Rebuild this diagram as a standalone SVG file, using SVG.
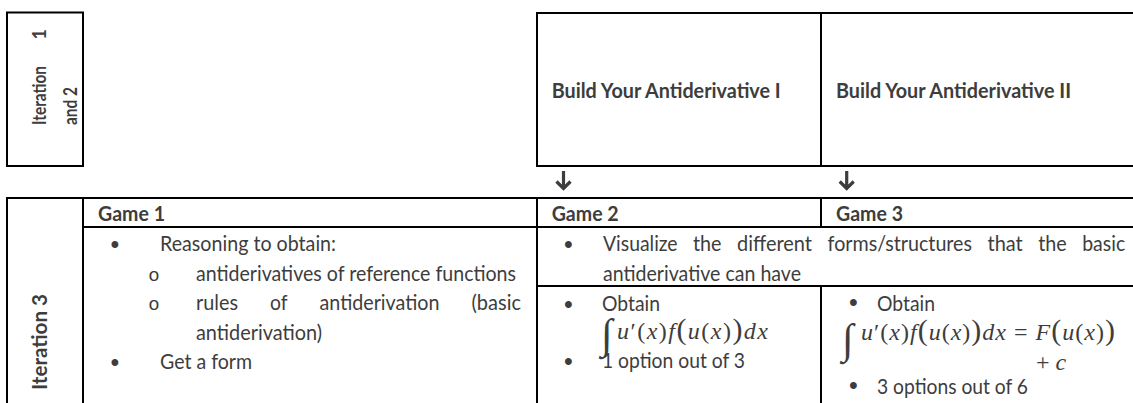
<svg xmlns="http://www.w3.org/2000/svg" width="1133" height="403" viewBox="0 0 1133 403">
  <style>
    .grid { stroke: #000; stroke-width: 2; fill: none; }
    .t { font-family: Lato, 'Open Sans', sans-serif; font-size: 21px; fill: #3d3d3d; }
    .b { font-weight: 700; }
    .small { font-size: 18px; }
    .dot { font-family: 'Liberation Sans', sans-serif; font-size: 25px; fill: #3d3d3d; text-anchor: middle; }
    .ring { font-family: 'Liberation Mono', monospace; font-size: 19px; fill: #3d3d3d; text-anchor: middle; }
    .m { font-family: 'Liberation Serif', 'DejaVu Serif', serif; font-size: 24px; fill: #3d3d3d; }
    .i { font-style: italic; }
    .big { font-size: 30px; }
    .int { font-size: 42px; }
    .arrow { stroke: #3d3d3d; stroke-width: 3.2; fill: none; }
  </style>

  <!-- Iterations 1 and 2 label box -->
  <g id="iter12">
    <rect class="grid" x="7" y="12.5" width="76" height="153.5"/>
    <g transform="translate(46,125) rotate(-90)">
      <text class="t b small" x="0" y="0" textLength="59" lengthAdjust="spacingAndGlyphs">Iteration</text>
      <text class="t b small" x="96" y="0" text-anchor="end">1</text>
    </g>
    <text class="t b small" transform="translate(77,125) rotate(-90)" x="0" y="0" textLength="38" lengthAdjust="spacingAndGlyphs">and 2</text>
  </g>

  <!-- Build Your Antiderivative I -->
  <g id="bya1">
    <path class="grid" d="M537 13 H821 M537 166 H821 M537 12 V167"/>
    <text class="t b" x="551.7" y="98" textLength="229" lengthAdjust="spacingAndGlyphs">Build Your Antiderivative I</text>
  </g>

  <!-- Build Your Antiderivative II -->
  <g id="bya2">
    <path class="grid" d="M821 13 H1133 M821 166 H1133 M821 12 V167"/>
    <text class="t b" x="836" y="98" textLength="235" lengthAdjust="spacingAndGlyphs">Build Your Antiderivative II</text>
  </g>

  <!-- Iteration 3 table rules -->
  <g id="table-grid">
    <path class="grid" d="M6 198 H1133 M83 227 H1133 M537 286 H1133 M7 197 V403 M83 198 V403 M537 198 V403 M821 198 V227 M821 286 V403"/>
  </g>

  <g id="iter3">
    <text class="t b" transform="translate(46.5,390) rotate(-90)" x="0" y="0" textLength="96" lengthAdjust="spacingAndGlyphs">Iteration 3</text>
  </g>

  <!-- Game 1 column -->
  <g id="game1">
    <text class="t b" x="98" y="221" textLength="67" lengthAdjust="spacingAndGlyphs">Game 1</text>
    <text class="dot" x="115" y="253">•</text>
    <text class="t" x="160" y="251" textLength="176" lengthAdjust="spacingAndGlyphs">Reasoning to obtain:</text>
    <text class="ring" x="154" y="280.5">o</text>
    <text class="t" x="196" y="280.5" textLength="320" lengthAdjust="spacingAndGlyphs">antiderivatives of reference functions</text>
    <text class="ring" x="154" y="310">o</text>
    <text class="t" x="196" y="310" textLength="42" lengthAdjust="spacingAndGlyphs">rules</text>
    <text class="t" x="270" y="310" textLength="17.5" lengthAdjust="spacingAndGlyphs">of</text>
    <text class="t" x="319.5" y="310" textLength="120" lengthAdjust="spacingAndGlyphs">antiderivation</text>
    <text class="t" x="471.5" y="310" textLength="49.5" lengthAdjust="spacingAndGlyphs">(basic</text>
    <text class="t" x="196" y="339.5" textLength="126" lengthAdjust="spacingAndGlyphs">antiderivation)</text>
    <text class="dot" x="115" y="371">•</text>
    <text class="t" x="160" y="369" textLength="92" lengthAdjust="spacingAndGlyphs">Get a form</text>
  </g>

  <!-- Game 2 and Game 3 headers, shared row -->
  <g id="game2-head">
    <text class="t b" x="551.7" y="221" textLength="67" lengthAdjust="spacingAndGlyphs">Game 2</text>
  </g>
  <g id="game3-head">
    <text class="t b" x="836" y="221" textLength="67" lengthAdjust="spacingAndGlyphs">Game 3</text>
  </g>
  <g id="shared">
    <text class="dot" x="568.3" y="253">•</text>
    <text class="t" x="603" y="251" textLength="74.6" lengthAdjust="spacingAndGlyphs">Visualize</text>
    <text class="t" x="693" y="251" textLength="28.5" lengthAdjust="spacingAndGlyphs">the</text>
    <text class="t" x="737" y="251" textLength="75" lengthAdjust="spacingAndGlyphs">different</text>
    <text class="t" x="827.6" y="251" textLength="144.4" lengthAdjust="spacingAndGlyphs">forms/structures</text>
    <text class="t" x="987.5" y="251" textLength="35.2" lengthAdjust="spacingAndGlyphs">that</text>
    <text class="t" x="1038.2" y="251" textLength="28.5" lengthAdjust="spacingAndGlyphs">the</text>
    <text class="t" x="1082.2" y="251" textLength="43" lengthAdjust="spacingAndGlyphs">basic</text>
    <text class="t" x="603" y="280.5" textLength="198" lengthAdjust="spacingAndGlyphs">antiderivative can have</text>
  </g>

  <!-- Game 2 body -->
  <g id="game2">
    <text class="dot" x="568.3" y="313">•</text>
    <text class="t" x="602" y="311" textLength="58" lengthAdjust="spacingAndGlyphs">Obtain</text>
    <text class="m int" x="601" y="348">∫</text>
    <text class="m" x="617" y="339" textLength="151"><tspan class="i">u</tspan>′(<tspan class="i">x</tspan>)<tspan class="i">f</tspan><tspan class="big">(</tspan><tspan class="i">u</tspan>(<tspan class="i">x</tspan>)<tspan class="big">)</tspan><tspan class="i">dx</tspan></text>
    <text class="dot" x="568.3" y="370">•</text>
    <text class="t" x="602" y="368" textLength="143" lengthAdjust="spacingAndGlyphs">1 option out of 3</text>
  </g>

  <!-- Game 3 body -->
  <g id="game3">
    <text class="dot" x="853.5" y="311">•</text>
    <text class="t" x="877" y="311" textLength="58" lengthAdjust="spacingAndGlyphs">Obtain</text>
    <text class="m int" x="842" y="353">∫</text>
    <text class="m" x="861" y="340" textLength="254"><tspan class="i">u</tspan>′(<tspan class="i">x</tspan>)<tspan class="i">f</tspan><tspan class="big">(</tspan><tspan class="i">u</tspan>(<tspan class="i">x</tspan>)<tspan class="big">)</tspan><tspan class="i">dx</tspan> = <tspan class="i">F</tspan><tspan class="big">(</tspan><tspan class="i">u</tspan>(<tspan class="i">x</tspan>)<tspan class="big">)</tspan></text>
    <text class="m" x="1036" y="370">+ <tspan class="i">c</tspan></text>
    <text class="dot" x="853.5" y="394">•</text>
    <text class="t" x="877" y="394" textLength="151" lengthAdjust="spacingAndGlyphs">3 options out of 6</text>
  </g>

  <!-- Connectors from the Iteration 1-2 games down to Iteration 3 -->
  <g id="connectors">
    <path class="arrow" d="M563.5 171 V188.5 M556.5 181.5 L563.5 188.5 L570.5 181.5"/>
    <path class="arrow" d="M846.7 171 V188.5 M839.7 181.5 L846.7 188.5 L853.7 181.5"/>
  </g>
</svg>
